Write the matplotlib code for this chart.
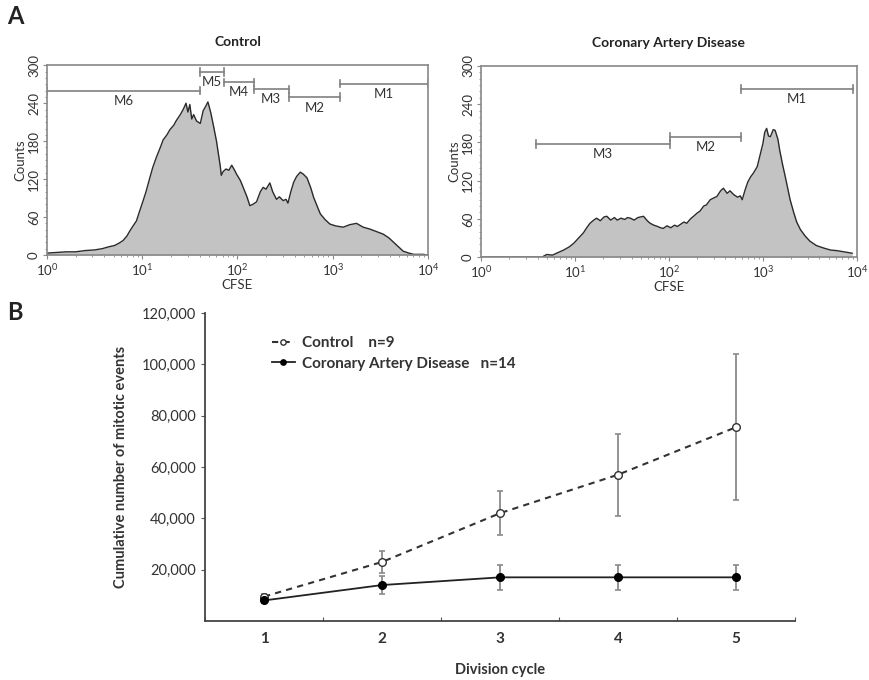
import numpy as np
import matplotlib
matplotlib.use('Agg')
import matplotlib.pyplot as plt
import matplotlib.ticker as ticker

plt.rcParams['font.family'] = ['Lato', 'DejaVu Sans']
plt.rcParams['mathtext.fontset'] = 'custom'
plt.rcParams['mathtext.rm'] = 'Lato'

# --- panel A: CFSE histograms (x as log10 CFSE, y counts) ---
ctrl_log = [0.00, 0.10, 0.20, 0.30, 0.40, 0.50, 0.58, 0.65, 0.71, 0.76, 0.80, 0.84, 0.87, 0.90,
            0.94, 0.97, 1.01, 1.04, 1.08, 1.11, 1.15, 1.19, 1.22, 1.26, 1.29, 1.33, 1.36, 1.40,
            1.43, 1.46, 1.48, 1.50, 1.52, 1.54, 1.57, 1.61, 1.64, 1.67, 1.69, 1.72, 1.75, 1.78,
            1.80, 1.82, 1.83, 1.85, 1.88, 1.91, 1.94, 1.97, 1.99, 2.03, 2.06, 2.10, 2.13, 2.16,
            2.20, 2.24, 2.27, 2.30, 2.34, 2.37, 2.41, 2.44, 2.48, 2.51, 2.53, 2.56, 2.59, 2.62,
            2.66, 2.69, 2.73, 2.77, 2.80, 2.84, 2.87, 2.92, 2.97, 3.03, 3.11, 3.18, 3.25, 3.32,
            3.39, 3.46, 3.53, 3.59, 3.64, 3.69, 3.74, 3.80, 3.85, 3.95, 4.00]
ctrl_counts = [3, 4, 5, 5, 7, 8, 10, 13, 15, 19, 23, 30, 38, 45,
               54, 68, 86, 100, 122, 138, 155, 170, 182, 190, 198, 205, 213, 222,
               230, 240, 226, 238, 215, 222, 212, 208, 228, 236, 242, 225, 203, 180,
               160, 140, 126, 132, 136, 134, 142, 134, 128, 118, 107, 92, 78, 80,
               84, 100, 107, 104, 114, 100, 88, 92, 86, 88, 82, 100, 115, 124,
               131, 128, 122, 106, 91, 76, 65, 56, 49, 46, 44, 48, 50, 44,
               41, 37, 33, 27, 20, 13, 6, 3, 1, 1, 0]

cad_log = [0.00, 0.65, 0.70, 0.76, 0.82, 0.88, 0.94, 0.99, 1.04, 1.09, 1.13, 1.16, 1.20, 1.23,
           1.27, 1.31, 1.34, 1.38, 1.42, 1.45, 1.49, 1.53, 1.56, 1.59, 1.63, 1.67, 1.70, 1.73,
           1.77, 1.80, 1.84, 1.88, 1.91, 1.94, 1.98, 2.02, 2.06, 2.09, 2.13, 2.16, 2.19, 2.23,
           2.27, 2.30, 2.33, 2.37, 2.40, 2.44, 2.48, 2.51, 2.55, 2.58, 2.62, 2.65, 2.69, 2.73,
           2.76, 2.78, 2.81, 2.84, 2.87, 2.90, 2.94, 2.97, 3.00, 3.02, 3.04, 3.06, 3.08, 3.11,
           3.13, 3.16, 3.18, 3.21, 3.24, 3.26, 3.29, 3.33, 3.36, 3.40, 3.45, 3.50, 3.57, 3.65,
           3.72, 3.79, 3.87, 3.95]
cad_counts = [0, 0, 4, 3, 7, 11, 16, 22, 30, 38, 47, 53, 58, 61,
              57, 63, 64, 58, 62, 58, 61, 59, 62, 61, 58, 62, 63, 64,
              57, 53, 50, 48, 46, 45, 49, 46, 50, 48, 52, 55, 53, 60,
              65, 69, 72, 80, 82, 90, 93, 95, 104, 108, 100, 104, 98, 94,
              96, 90, 105, 118, 126, 132, 142, 160, 178, 196, 202, 190, 189, 200,
              199, 185, 167, 145, 125, 111, 90, 69, 55, 43, 33, 25, 18, 14,
              11, 10, 8, 6]

# gates: name, start log10, end log10, level, label level
ctrl_gates = [('M6', 0.00, 1.61, 260, 244), ('M5', 1.61, 1.86, 289, 273),
              ('M4', 1.86, 2.17, 273, 257), ('M3', 2.17, 2.54, 262, 246),
              ('M2', 2.54, 3.08, 250, 233), ('M1', 3.08, 4.00, 271, 254)]
cad_gates = [('M3', 0.59, 2.01, 177, 161), ('M2', 2.01, 2.77, 188, 172),
             ('M1', 2.77, 3.96, 264, 248)]

# --- panel B: cumulative mitotic events ---
cycles = [1, 2, 3, 4, 5]
control_mean = [9500, 23000, 42000, 57000, 75500]
control_err = [1000, 4300, 8500, 16000, 28500]
cad_mean = [8000, 14000, 17000, 17000, 17000]
cad_err = [1000, 3500, 5000, 5000, 5000]

fig = plt.figure(figsize=(8.69, 6.80), dpi=100)

text_col = '#333333'
spine_col = '#888888'


def hist_panel(ax, logs, counts, gates, title):
    x = 10 ** np.array(logs)
    ax.fill_between(x, counts, 0, color='#c3c3c3', lw=0)
    ax.plot(x, counts, color='#2a2a2a', lw=1.0)
    for name, a, b, lev, lab in gates:
        xa, xb = 10 ** a, 10 ** b
        ax.plot([xa, xb], [lev, lev], color='#808080', lw=1.2)
        ax.plot([xa, xa], [lev - 6, lev + 6], color='#808080', lw=1.2)
        ax.plot([xb, xb], [lev - 6, lev + 6], color='#808080', lw=1.2)
        ax.text(10 ** ((a + b) / 2), lab, name, ha='center', va='center',
                fontsize=9.5, color=text_col)
    ax.set_xscale('log')
    ax.set_xlim(1, 1e4)
    ax.set_ylim(0, 300)
    ax.set_yticks([0, 60, 120, 180, 240, 300])
    ax.yaxis.set_minor_locator(ticker.MultipleLocator(10))
    ax.set_xticks([1, 10, 100, 1000, 10000])
    ax.set_xticklabels([r'$10^0$', r'$10^1$', r'$10^2$', r'$10^3$', r'$10^4$'])
    ax.xaxis.set_minor_locator(ticker.LogLocator(subs=np.arange(2, 10)))
    ax.xaxis.set_minor_formatter(ticker.NullFormatter())
    for lbl in ax.get_yticklabels():
        lbl.set_rotation(90)
        lbl.set_va('center')
    ax.tick_params(axis='both', labelsize=9.5, colors=spine_col, labelcolor=text_col,
                   length=3, width=0.8, pad=2)
    ax.tick_params(which='minor', length=1.5, colors=spine_col)
    for s in ax.spines.values():
        s.set_color(spine_col)
        s.set_linewidth(1.2)
    ax.set_ylabel('Counts', fontsize=9.5, color=text_col, labelpad=1)
    ax.set_xlabel('CFSE', fontsize=9.5, color=text_col, labelpad=1)
    ax.set_title(title, fontsize=10, fontweight='bold', color='#222222', pad=14)


ax1 = fig.add_axes([0.054, 0.625, 0.4385, 0.279])
hist_panel(ax1, ctrl_log, ctrl_counts, ctrl_gates, 'Control')
ax2 = fig.add_axes([0.5535, 0.622, 0.4325, 0.281])
hist_panel(ax2, cad_log, cad_counts, cad_gates, 'Coronary Artery Disease')

# --- panel B ---
ax3 = fig.add_axes([0.236, 0.0868, 0.679, 0.453])
ax3.errorbar(cycles, control_mean, yerr=control_err, fmt='none', ecolor='#8a8a8a',
             elinewidth=1.3, capsize=2, capthick=1.2, zorder=1)
ax3.errorbar(cycles, cad_mean, yerr=cad_err, fmt='none', ecolor='#8a8a8a',
             elinewidth=1.3, capsize=2, capthick=1.2, zorder=1)
ax3.plot(cycles, control_mean, ls=(0, (3, 2.5)), color='#333333', lw=1.5, marker='o',
         ms=5.5, mfc='white', mec='#333333', mew=1.0, zorder=3, label='Control    n=9')
ax3.plot(cycles, cad_mean, ls='-', color='#222222', lw=1.3, marker='o',
         ms=5.5, mfc='black', mec='black', zorder=3, label='Coronary Artery Disease   n=14')

ax3.set_xlim(0.5, 5.5)
ax3.set_ylim(0, 120000)
ax3.set_yticks([20000, 40000, 60000, 80000, 100000, 120000])
ax3.yaxis.set_major_formatter(ticker.FuncFormatter(lambda v, p: f'{int(v):,}'))
ax3.set_xticks([0.5, 1.5, 2.5, 3.5, 4.5, 5.5])
ax3.set_xticklabels([])
ax3.set_xticks(cycles, minor=True)
ax3.set_xticklabels([str(c) for c in cycles], minor=True, fontweight='bold')
ax3.tick_params(axis='x', which='major', length=3, direction='in', colors='#555555')
ax3.tick_params(axis='x', which='minor', length=0, labelsize=11, pad=8, labelcolor=text_col)
ax3.tick_params(axis='y', length=3, labelsize=10.5, colors='#555555', labelcolor=text_col)
ax3.spines['top'].set_visible(False)
ax3.spines['right'].set_visible(False)
for s in ('left', 'bottom'):
    ax3.spines[s].set_color('#444444')
    ax3.spines[s].set_linewidth(1.3)
ax3.set_ylabel('Cumulative number of mitotic events', fontsize=10.5, fontweight='bold',
               color=text_col, labelpad=10)
ax3.set_xlabel('Division cycle', fontsize=10.5, fontweight='bold', color=text_col, labelpad=12)
leg = ax3.legend(loc='upper left', bbox_to_anchor=(0.09, 0.97), frameon=False,
                 handlelength=1.5, handletextpad=0.5, labelspacing=0.45, markerscale=0.7,
                 prop={'weight': 'bold', 'size': 11})
for t in leg.get_texts():
    t.set_color(text_col)

fig.text(0.008, 0.975, 'A', fontsize=17, fontweight='bold', va='center', color='#222222')
fig.text(0.008, 0.54, 'B', fontsize=17, fontweight='bold', va='center', color='#222222')

fig.savefig('out.png', dpi=100)
